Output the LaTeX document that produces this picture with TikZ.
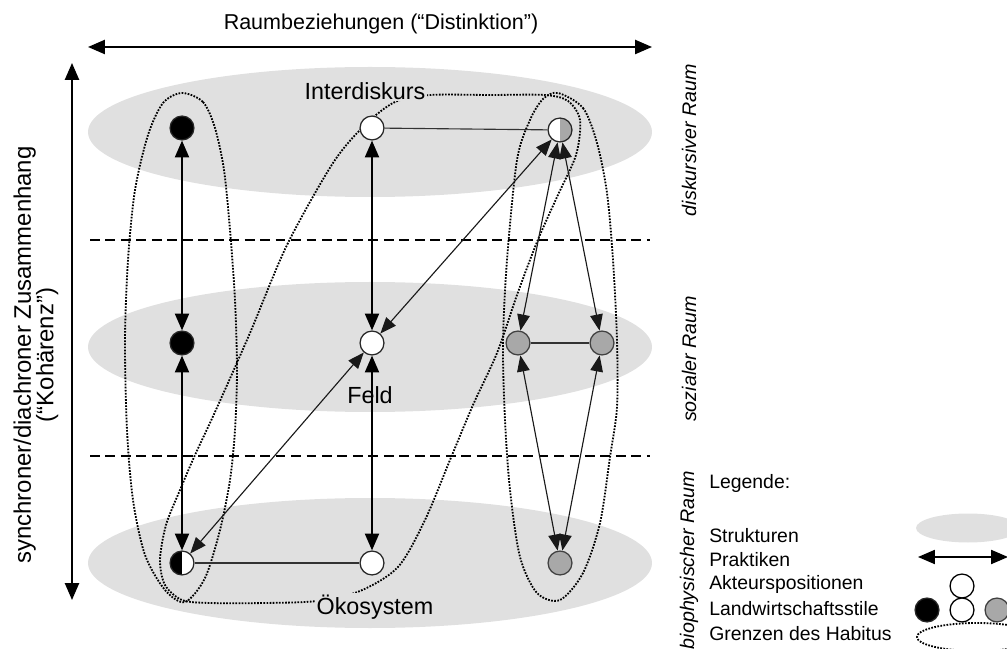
\documentclass[tikz,border=0pt]{standalone}
\usepackage{fontspec}
\setmainfont{Liberation Sans}
\usetikzlibrary{arrows.meta}
\definecolor{strukturgrau}{RGB}{224,224,224}
\definecolor{stilgrau}{RGB}{168,168,168}
\tikzset{
  akteur/.style={circle,draw=black!85,line width=0.9pt,minimum size=17pt,inner sep=0pt,fill=white},
  stilschwarz/.style={akteur,fill=black},
  stilgrauk/.style={akteur,fill=stilgrau,draw=black!75},
  halbschwarz/.style={akteur,path picture={\fill[black] (path picture bounding box.south west) rectangle (path picture bounding box.north);}},
  halbgrau/.style={akteur,path picture={\fill[stilgrau] (path picture bounding box.south) rectangle (path picture bounding box.north east);}},
  praxis/.style={{Triangle[length=11.5pt,width=9pt]}-{Triangle[length=11.5pt,width=9pt]},line width=0.8pt,black!90},
  praxisdick/.style={{Triangle[length=12pt,width=10pt]}-{Triangle[length=12pt,width=10pt]},line width=1.4pt},
  verbindung/.style={line width=0.8pt,black!80},
  achse/.style={{Triangle[length=12pt,width=10pt]}-{Triangle[length=12pt,width=10pt]},line width=1.4pt},
  ebenengrenze/.style={line width=1pt,dash pattern=on 7pt off 4pt},
  habitus/.style={line width=1.3pt,dash pattern=on 1.2pt off 1pt},
  ebene/.style={font=\fontsize{16.6}{19}\selectfont,fill=strukturgrau,inner sep=1pt},
  raumtext/.style={font=\fontsize{14}{15}\selectfont\itshape,rotate=90},
  legtext/.style={font=\fontsize{13.8}{16}\selectfont,anchor=west,inner sep=0pt}
}
\begin{document}
\begin{tikzpicture}[x=0.025cm,y=-0.025cm]
\useasboundingbox (0,0) rectangle (1007,649);
\clip (0,0) rectangle (1007,649);
\foreach \y in {132,347,563}
  \fill[strukturgrau] (370,\y) ellipse [x radius=282,y radius=65];
\draw[ebenengrenze] (90,240) -- (650,240);
\draw[ebenengrenze] (90,456) -- (650,456);
% Grenzen des Habitus
\draw[habitus] plot[smooth cycle] coordinates {(182,93) (203,102) (215,128) (224,170) (230,230) (235,300) (237,370) (235,430) (230,480) (220,530) (205,578) (185,602) (165,590) (145,555) (133,500) (127,430) (125,340) (128,260) (135,190) (148,135) (163,103)};
\draw[habitus] plot[smooth cycle] coordinates {(317,601) (265,603) (210,603) (182,600) (165,585) (160,560) (166,525) (180,490) (195,455) (215,412) (250,333) (287,245) (333,163) (365,125) (395,102) (430,95) (490,95) (545,95) (568,101) (580,120) (576,155) (557,197) (537,242) (517,295) (497,353) (473,405) (450,460) (425,520) (398,567) (360,591)};
\draw[habitus] plot[smooth cycle] coordinates {(558,93) (583,108) (597,143) (607,193) (613,260) (617,340) (617,407) (610,457) (600,523) (583,573) (560,600) (537,593) (520,557) (510,490) (505,420) (503,343) (507,260) (517,160) (530,120) (543,99)};
\node[ebene] (interdiskurs) at (365,91) {Interdiskurs};
\node[ebene,fill=none] (feld) at (370,395) {Feld};
\node[ebene] (oekosystem) at (375,607) {Ökosystem};
% Akteurspositionen
\node[stilschwarz] (dl) at (182,128) {};
\node[akteur] (dm) at (372,128) {};
\node[halbgrau] (dr) at (560,130) {};
\node[stilschwarz] (sl) at (182,343) {};
\node[akteur] (sm) at (372,343) {};
\node[stilgrauk] (sr1) at (518,343) {};
\node[stilgrauk] (sr2) at (602,343) {};
\node[halbschwarz] (bl) at (182,563) {};
\node[akteur] (bm) at (372,563) {};
\node[stilgrauk] (br) at (560,563) {};
\draw[verbindung] (dm) -- (dr);
\draw[verbindung] (sr1) -- (sr2);
\draw[verbindung] (bl) -- (bm);
\draw[praxisdick] (dl) -- (sl);
\draw[praxisdick] (sl) -- (bl);
\draw[praxisdick] (dm) -- (sm);
\draw[praxisdick] (sm) -- (bm);
\draw[praxis] (dr) -- (sm);
\draw[praxis] (sm) -- (bl);
\draw[praxis] (dr) -- (sr1);
\draw[praxis] (dr) -- (sr2);
\draw[praxis] (sr1) -- (br);
\draw[praxis] (sr2) -- (br);
% Achsen
\coordinate (raumL) at (88,47);
\coordinate (raumR) at (652,47);
\draw[achse] (raumL) -- (raumR);
\node[font=\fontsize{15.3}{18}\selectfont] (raum) at (381,24) {Raumbeziehungen (“Distinktion”)};
\coordinate (kohO) at (72,63);
\coordinate (kohU) at (72,600);
\draw[achse] (kohO) -- (kohU);
\node[font=\fontsize{17}{16}\selectfont,rotate=90,align=center] (kohaerenz) at (36,355) {synchroner/diachroner Zusammenhang\\(“Kohärenz”)};
\node[raumtext] (diskursiv) at (689,140) {diskursiver Raum};
\node[raumtext] (sozial) at (689,359) {sozialer Raum};
\node[raumtext] (bio) at (689,560) {biophysischer Raum};
% Legende
\node[legtext] (legende) at (709,483) {Legende:};
\foreach \txt [count=\i] in {Strukturen,Praktiken,Akteurspositionen,Landwirtschaftsstile,Grenzen des Habitus}
  \node[legtext] (leg\i) at (709,511+24.5*\i) {\txt};
\fill[strukturgrau] (968,528) ellipse [x radius=52,y radius=14.5];
\coordinate (legPL) at (918,557);
\coordinate (legPR) at (1008,557);
\draw[achse,line width=1.2pt] (legPL) -- (legPR);
\node[akteur,draw=black] (legA) at (962,586) {};
\node[stilschwarz] (legS1) at (927,610) {};
\node[akteur,draw=black] (legS2) at (962,610) {};
\node[stilgrauk] (legS3) at (997,610) {};
\draw[habitus] (977,637) ellipse [x radius=60,y radius=14];
\end{tikzpicture}
\end{document}
